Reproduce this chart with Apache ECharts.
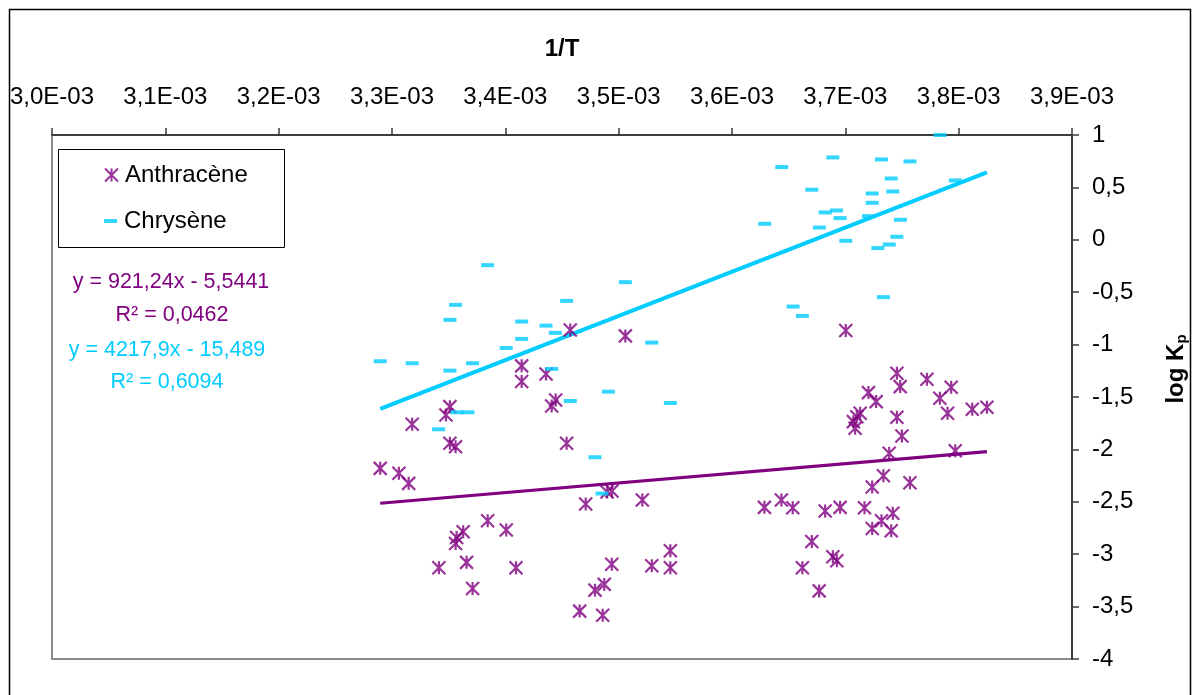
<!DOCTYPE html>
<html>
<head>
<meta charset="utf-8">
<script src="https://cdn.jsdelivr.net/npm/echarts@6.0.0/dist/echarts.min.js"></script>
<style>
html,body{margin:0;padding:0;background:#fff;}
#chart{width:1196px;height:695px;}
</style>
</head>
<body>
<div id="chart"></div>
<script>
// 1/T values are given in units of 1e-3 (K^-1)
const anthraceneInvT = [3.4573, 3.5059, 3.4144, 3.4144, 3.4359, 3.4444, 3.4409, 3.3511, 3.3476, 3.3178,
  3.3511, 3.3561, 3.4541, 3.2896, 3.3061, 3.3147, 3.4898, 3.4941, 3.4709, 3.5209,
  3.3844, 3.4008, 3.3628, 3.3570, 3.3561, 3.3414, 3.3658, 3.4094, 3.3711, 3.4939,
  3.5292, 3.5456, 3.5456, 3.4873, 3.4791, 3.4656, 3.4859, 3.7004, 3.7455, 3.7484,
  3.7720, 3.7934, 3.7204, 3.7272, 3.7834, 3.7902, 3.8120, 3.8249, 3.7131, 3.7101,
  3.7071, 3.7086, 3.7455, 3.7499, 3.7387, 3.7970, 3.7336, 3.7237, 3.7570, 3.6286,
  3.6436, 3.6536, 3.6822, 3.6954, 3.7169, 3.7419, 3.7319, 3.7237, 3.7405, 3.6704,
  3.6890, 3.6925, 3.6621, 3.6769];
const anthraceneLogKp = [-0.860, -0.917, -1.203, -1.353, -1.280, -1.528, -1.585, -1.592, -1.671, -1.760,
  -1.942, -1.974, -1.942, -2.181, -2.228, -2.324, -2.407, -2.397, -2.521, -2.483,
  -2.681, -2.770, -2.786, -2.840, -2.897, -3.130, -3.078, -3.130, -3.327, -3.095,
  -3.111, -2.968, -3.130, -3.288, -3.343, -3.543, -3.582, -0.866, -1.273, -1.401,
  -1.330, -1.407, -1.458, -1.544, -1.512, -1.655, -1.617, -1.598, -1.655, -1.688,
  -1.735, -1.798, -1.693, -1.872, -2.037, -2.012, -2.251, -2.359, -2.318, -2.553,
  -2.483, -2.557, -2.588, -2.553, -2.557, -2.610, -2.681, -2.754, -2.777, -2.878,
  -3.025, -3.063, -3.130, -3.350];

const chryseneInvT = [3.3844, 3.3561, 3.3511, 3.4144, 3.4359, 3.4541, 3.5059, 3.4441, 3.4144, 3.4008,
  3.2896, 3.3178, 3.3511, 3.3711, 3.5292, 3.4409, 3.4909, 3.4573, 3.5456, 3.3573,
  3.3670, 3.3411, 3.4791, 3.4853, 3.7837, 3.6890, 3.6439, 3.7319, 3.7570, 3.7405,
  3.7970, 3.6704, 3.7237, 3.7419, 3.7237, 3.6822, 3.6922, 3.6954, 3.7204, 3.6289,
  3.6771, 3.7486, 3.7455, 3.7004, 3.7387, 3.7287, 3.7336, 3.6539, 3.6621];
const chryseneLogKp = [-0.242, -0.621, -0.764, -0.780, -0.819, -0.583, -0.404, -0.888, -0.946, -1.032,
  -1.159, -1.178, -1.248, -1.178, -0.981, -1.232, -1.449, -1.538, -1.557, -1.646,
  -1.646, -1.808, -2.075, -2.421, 1.000, 0.786, 0.694, 0.767, 0.748, 0.585,
  0.566, 0.478, 0.442, 0.461, 0.353, 0.261, 0.280, 0.207, 0.226, 0.153,
  0.117, 0.191, 0.029, -0.010, -0.045, -0.079, -0.547, -0.637, -0.726];

const seriesNames = ['Anthracène', 'Chrysène'];
const trendSlope = [921.24, 4217.9];
const trendIntercept = [-5.5441, -15.489];
const trendRangeInvT = [3.2896, 3.8249];
const equationTexts = ['y = 921,24x - 5,5441', 'R² = 0,0462', 'y = 4217,9x - 15,489', 'R² = 0,6094'];

const xTickLabels = ['3,0E-03','3,1E-03','3,2E-03','3,3E-03','3,4E-03','3,5E-03','3,6E-03','3,7E-03','3,8E-03','3,9E-03'];
const yTickLabels = ['-4','-3,5','-3','-2,5','-2','-1,5','-1','-0,5','0','0,5','1'];

const SCALE = 1e-3;
const FONT = '"Liberation Sans", Arial, sans-serif';
const PURPLE = '#800080';
const CYAN = '#00CCFF';

const pts = (xs, ys) => xs.map((x, i) => [x * SCALE, ys[i]]);
const trend = (k) => trendRangeInvT.map(x => [x * SCALE, trendSlope[k] * x * SCALE + trendIntercept[k]]);

const starPath = 'path://M6,0L6,12M0,0L12,12M0,12L12,0';

const chart = echarts.init(document.getElementById('chart'), null, {renderer: 'canvas'});

chart.setOption({
  animation: false,
  backgroundColor: '#ffffff',
  textStyle: {fontFamily: FONT},
  grid: {left: 52, right: 124, top: 135, bottom: 36, show: true, borderColor: '#8c8c8c', borderWidth: 2, backgroundColor: '#ffffff'},
  xAxis: {
    type: 'value', position: 'top', min: 0.003, max: 0.0039, interval: 0.0001,
    name: '1/T', nameLocation: 'middle', nameGap: 74,
    nameTextStyle: {fontSize: 24, fontWeight: 'bold', color: '#000', fontFamily: FONT},
    axisLine: {show: true, onZero: false, lineStyle: {color: '#3c3c3c', width: 2}},
    axisTick: {show: true, inside: false, length: 7, lineStyle: {color: '#3c3c3c', width: 1.5}},
    axisLabel: {fontSize: 24, color: '#000', margin: 26, fontFamily: FONT,
      formatter: v => xTickLabels[Math.round((v - 0.003) / 0.0001)] || ''},
    splitLine: {show: false}
  },
  yAxis: {
    type: 'value', position: 'right', min: -4, max: 1, interval: 0.5,
    axisLine: {show: true, onZero: false, lineStyle: {color: '#3c3c3c', width: 2}},
    axisTick: {show: true, inside: false, length: 7, lineStyle: {color: '#3c3c3c', width: 1.5}},
    axisLabel: {fontSize: 24, color: '#000', margin: 20, fontFamily: FONT,
      formatter: v => yTickLabels[Math.round((v + 4) / 0.5)] || ''},
    splitLine: {show: false}
  },
  legend: [
    {data: [seriesNames[0]], left: 104, top: 163, padding: 0, itemWidth: 13, itemHeight: 13, z: 20,
      selectedMode: false,
      textStyle: {fontSize: 24, color: '#000', lineHeight: 24, fontFamily: FONT, padding: [0, 0, 0, 2]}},
    {data: [seriesNames[1]], left: 104, top: 209, padding: 0, itemWidth: 13, itemHeight: 4, z: 20,
      selectedMode: false, icon: 'rect',
      textStyle: {fontSize: 24, color: '#000', lineHeight: 24, fontFamily: FONT, padding: [0, 0, 0, 2]}}
  ],
  graphic: [
    {type: 'rect', left: 7, top: 7, shape: {width: 1181, height: 700}, style: {fill: 'none', stroke: '#000', lineWidth: 1.5}, silent: true, z: -10},
    {type: 'rect', shape: {x: 58.5, y: 149.5, width: 226, height: 98}, style: {fill: '#fff', stroke: '#000', lineWidth: 1}, silent: true, z: 1},
    {type: 'text', x: 171, y: 282, style: {text: equationTexts[0], fill: PURPLE, fontSize: 21.5, fontFamily: FONT, align: 'center', verticalAlign: 'middle'}, z: 6},
    {type: 'text', x: 172, y: 315, style: {text: equationTexts[1], fill: PURPLE, fontSize: 21.5, fontFamily: FONT, align: 'center', verticalAlign: 'middle'}, z: 6},
    {type: 'text', x: 167, y: 350, style: {text: equationTexts[2], fill: CYAN, fontSize: 21.5, fontFamily: FONT, align: 'center', verticalAlign: 'middle'}, z: 6},
    {type: 'text', x: 167, y: 382, style: {text: equationTexts[3], fill: CYAN, fontSize: 21.5, fontFamily: FONT, align: 'center', verticalAlign: 'middle'}, z: 6},
    {type: 'text', x: 1176, y: 369, rotation: Math.PI / 2,
      style: {text: '{m|log K}{s|p}', align: 'center', verticalAlign: 'middle', fill: '#000',
        rich: {
          m: {fontSize: 24, fontWeight: 'bold', fontFamily: FONT, lineHeight: 26, verticalAlign: 'middle', fill: '#000'},
          s: {fontSize: 15, fontWeight: 'bold', fontFamily: FONT, lineHeight: 12, verticalAlign: 'bottom', fill: '#000'}
        }}, z: 6}
  ],
  series: [
    {name: seriesNames[0] + ' trend', type: 'line', data: trend(0), showSymbol: false, symbol: 'none',
      lineStyle: {color: PURPLE, width: 3.2}, z: 1, silent: true, clip: false},
    {name: seriesNames[1] + ' trend', type: 'line', data: trend(1), showSymbol: false, symbol: 'none',
      lineStyle: {color: CYAN, width: 4}, z: 1, silent: true, clip: false},
    {name: seriesNames[0], type: 'scatter', data: pts(anthraceneInvT, anthraceneLogKp), symbol: starPath, symbolSize: 13,
      itemStyle: {color: PURPLE, borderColor: PURPLE, borderWidth: 2.2}, z: 2, clip: false},
    {name: seriesNames[1], type: 'scatter', data: pts(chryseneInvT, chryseneLogKp), symbol: 'rect', symbolSize: [13, 4],
      itemStyle: {color: CYAN}, z: 3, clip: false}
  ]
});
</script>
</body>
</html>
